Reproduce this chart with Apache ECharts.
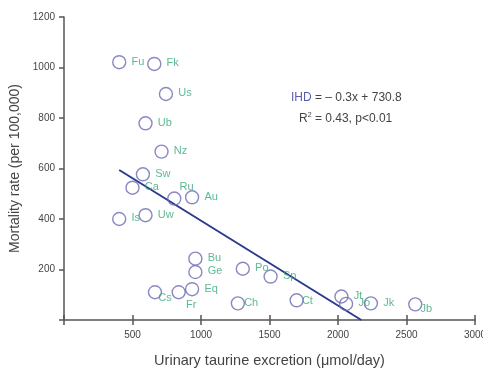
<!DOCTYPE html>
<html>
<head>
<meta charset="utf-8">
<script src="https://cdn.jsdelivr.net/npm/echarts@6/dist/echarts.min.js"></script>
<style>
  html, body { margin: 0; padding: 0; background: #fff; }
  #chart { width: 483px; height: 368px; }
</style>
</head>
<body>
<div id="chart"></div>
<script>
// countries (codes as printed) and their values
const names = ['Fu', 'Fk', 'Us', 'Ub', 'Nz', 'Sw', 'Ca', 'Ru', 'Au', 'Is', 'Uw',
  'Bu', 'Ge', 'Eq', 'Cs', 'Fr', 'Ch', 'Po', 'Sp', 'Ct', 'Jt', 'Jo', 'Jk', 'Jb'];
const taurine = [403, 659, 744, 595, 712, 576, 500, 805, 935, 403, 595,
  959, 959, 935, 664, 837, 1269, 1305, 1508, 1698, 2025, 2059, 2240, 2564];
const mortality = [1021, 1014, 895, 779, 667, 577, 524, 481, 486, 400, 415,
  243, 190, 122, 110, 110, 66, 203, 172, 78, 93, 64, 66, 62];

// regression line as drawn
const fitX = [403, 2170];
const fitY = [594, 0];

const xTicks = [0, 500, 1000, 1500, 2000, 2500, 3000];
const yTicks = [0, 200, 400, 600, 800, 1000, 1200];

// label offsets [dx, dy] from the circle centre, for labels not in the default place
const labelShift = {
  Ru: [6, -11], Cs: [4, 6], Fr: [8, 13], Ch: [7, 0], Ct: [6, 1], Jb: [6, 5]
};

const R = 6.5;
const points = names.map((n, i) => {
  const s = labelShift[n] || [13, 0];
  return {
    value: [taurine[i], mortality[i]],
    name: n,
    label: { position: [R + s[0], R + s[1]] }
  };
});

const chart = echarts.init(document.getElementById('chart'));
const axisCol = '#555';
const font = 'Liberation Sans, Arial, sans-serif';

const baseX = {
  type: 'value', min: xTicks[0], max: xTicks[xTicks.length - 1], interval: 500,
  splitLine: { show: false }
};
const baseY = {
  type: 'value', min: yTicks[0], max: yTicks[yTicks.length - 1], interval: 200,
  splitLine: { show: false }
};

chart.setOption({
  animation: false,
  backgroundColor: '#fff',
  grid: { left: 64, right: 8, top: 17, bottom: 48, outerBoundsMode: 'none', containLabel: false },
  xAxis: [
    Object.assign({}, baseX, {
      name: 'Urinary taurine excretion (μmol/day)',
      nameLocation: 'middle', nameGap: 33,
      nameTextStyle: { fontFamily: font, fontSize: 14.5, color: '#444' },
      axisLine: { lineStyle: { color: axisCol, width: 1.5 } },
      axisTick: { length: 5, lineStyle: { color: axisCol, width: 1.5 } },
      axisLabel: {
        fontFamily: font, fontSize: 10, color: '#444', margin: 10,
        formatter: v => (v === 0 ? '' : String(v))
      }
    }),
    Object.assign({}, baseX, {
      position: 'bottom',
      axisLine: { show: false },
      axisTick: { inside: true, length: 5, lineStyle: { color: axisCol, width: 1.5 } },
      axisLabel: { show: false }
    })
  ],
  yAxis: [
    Object.assign({}, baseY, {
      name: 'Mortality rate (per 100,000)',
      nameLocation: 'middle', nameGap: 38,
      nameTextStyle: { fontFamily: font, fontSize: 14, color: '#444' },
      axisLine: { lineStyle: { color: axisCol, width: 1.5 } },
      axisTick: { length: 5, lineStyle: { color: axisCol, width: 1.5 } },
      axisLabel: {
        fontFamily: font, fontSize: 10, color: '#444', margin: 9,
        formatter: v => (v === 0 ? '' : String(v))
      }
    })
  ],
  series: [
    {
      type: 'line',
      data: fitX.map((x, i) => [x, fitY[i]]),
      symbol: 'none',
      lineStyle: { color: '#2b3a8f', width: 2 },
      z: 1
    },
    {
      type: 'scatter',
      data: points,
      symbol: 'circle',
      symbolSize: 13,
      itemStyle: { color: 'rgba(255,255,255,0)', borderColor: '#6c6cb4', borderWidth: 1.4 },
      label: {
        show: true,
        formatter: '{b}',
        align: 'left', verticalAlign: 'middle',
        color: '#35a877', fontFamily: font, fontSize: 11
      },
      z: 2
    }
  ],
  graphic: [
    {
      type: 'text', left: 291, top: 92,
      style: {
        text: '{a|IHD} = – 0.3x + 730.8',
        fontFamily: font, fontSize: 12, fill: '#444',
        rich: { a: { fill: '#5b5bb0', fontFamily: font, fontSize: 12 } }
      }
    },
    {
      type: 'text', left: 299, top: 112,
      style: {
        text: 'R{s|2} = 0.43, p<0.01',
        fontFamily: font, fontSize: 12, fill: '#444',
        rich: { s: { fontSize: 7, fill: '#444', fontFamily: font, verticalAlign: 'top', padding: [0, 0, 6, 0] } }
      }
    }
  ]
});
</script>
</body>
</html>
